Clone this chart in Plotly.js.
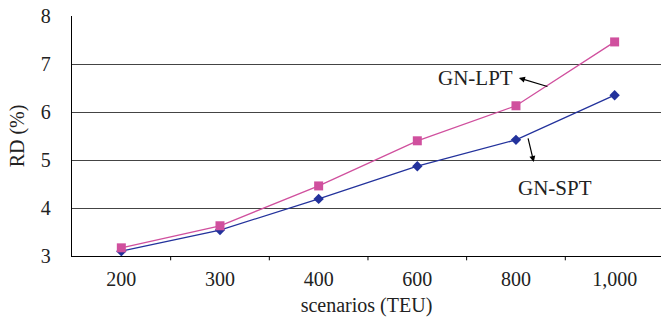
<!DOCTYPE html>
<html><head><meta charset="utf-8">
<script src="https://cdn.plot.ly/plotly-3.0.1.min.js"></script>
<style>html,body{margin:0;padding:0;background:#fff}</style>
</head><body>
<div id="chart" style="width:661px;height:324px"></div>
<script>
var categories = ['200', '300', '400', '600', '800', '1,000'];
var lptValues = [3.17, 3.63, 4.46, 5.40, 6.13, 7.46];
var sptValues = [3.10, 3.54, 4.19, 4.87, 5.42, 6.35];
var yTicks = [3, 4, 5, 6, 7, 8];

var font = 'Liberation Serif, Times New Roman, serif';
var traces = [
  {x: categories, y: sptValues, type: 'scatter', mode: 'lines+markers', name: 'GN-SPT',
   line: {color: '#23329C', width: 1.3}, marker: {symbol: 'diamond', size: 8, color: '#23329C'}},
  {x: categories, y: lptValues, type: 'scatter', mode: 'lines+markers', name: 'GN-LPT',
   line: {color: '#D0509E', width: 1.3}, marker: {symbol: 'square', size: 9, color: '#D0509E'}}
];
var layout = {
  width: 661, height: 324,
  margin: {l: 72, r: 0, t: 16, b: 68},
  paper_bgcolor: '#fff', plot_bgcolor: '#fff',
  showlegend: false,
  font: {family: font, size: 20, color: '#222'},
  xaxis: {type: 'category', range: [-0.5, 5.47], showgrid: false, zeroline: false,
    showline: true, linecolor: '#000', linewidth: 1.2,
    ticks: '', ticklabelstandoff: 5, tickfont: {size: 20, family: font},
    title: {text: 'scenarios (TEU)', font: {size: 20, family: font}, standoff: 8}},
  yaxis: {range: [3, 8], tickvals: yTicks, showgrid: true, gridcolor: '#444', gridwidth: 1,
    zeroline: false, showline: true, linecolor: '#000', linewidth: 1.2, ticks: '',
    ticklabelstandoff: 16, tickfont: {size: 20, family: font},
    title: {text: 'RD (%)', font: {size: 20, family: font}, standoff: 10}},
  shapes: [],
  annotations: [
    {x: 3.59, y: 6.71, xref: 'x', yref: 'y', text: 'GN-LPT', showarrow: false,
     font: {size: 21, family: font, color: '#222'}},
    {x: 4.03, y: 6.71, xref: 'x', yref: 'y', text: '', showarrow: true, arrowhead: 2,
     arrowsize: 1, arrowwidth: 1.2, arrowcolor: '#000', ax: 30, ay: 9},
    {x: 4.40, y: 4.42, xref: 'x', yref: 'y', text: 'GN-SPT', showarrow: false,
     font: {size: 21, family: font, color: '#222'}},
    {x: 4.18, y: 4.96, xref: 'x', yref: 'y', text: '', showarrow: true, arrowhead: 2,
     arrowsize: 1, arrowwidth: 1.2, arrowcolor: '#000', ax: -6, ay: -25}
  ]
};
// category tick marks between categories
for (var i = 0; i < categories.length - 1; i++) {
  layout.shapes.push({type: 'line', xref: 'x', yref: 'paper', x0: i + 0.5, x1: i + 0.5,
    y0: 0, y1: -0.018, line: {color: '#000', width: 1}});
}
Plotly.newPlot('chart', traces, layout, {displayModeBar: false, staticPlot: true});
</script>
</body></html>
